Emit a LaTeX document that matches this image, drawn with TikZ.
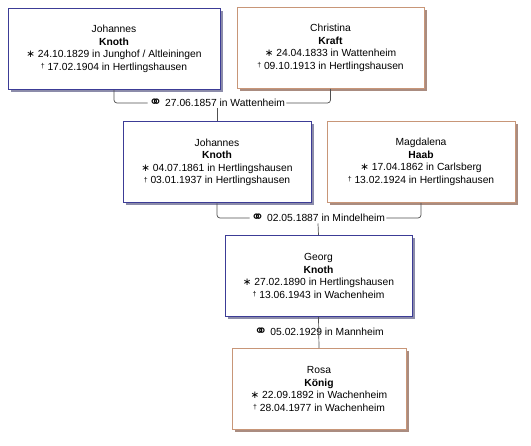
\documentclass[tikz,border=0pt]{standalone}
\usepackage{fontspec}
\setmainfont{Liberation Sans}
\newfontfamily\symfont{DejaVu Sans}
\usetikzlibrary{shadows}
\definecolor{maleline}{RGB}{60,60,150}
\definecolor{maleshade}{RGB}{140,140,170}
\definecolor{femaleline}{RGB}{200,150,120}
\definecolor{femaleshade}{RGB}{170,140,128}
\definecolor{linkgray}{RGB}{80,80,80}
\newcommand{\born}{{\symfont ∗}}
\newcommand{\died}{\raisebox{0.3ex}{\scriptsize †}}
\newcommand{\wed}{\raisebox{-0.15ex}{\symfont\fontsize{16}{12}\selectfont ⚭}}

\begin{document}
\begin{tikzpicture}[
        x=1pt, y=-1pt,
        font=\fontsize{10.3}{12.5}\selectfont,
        person/.style={rectangle, draw, fill=white, align=center, minimum height=81pt, inner sep=2pt},
        male/.style={person, draw=maleline, line width=1pt, drop shadow={shadow xshift=2.5pt, shadow yshift=-2.5pt, fill=maleshade, opacity=1}},
        female/.style={person, draw=femaleline, line width=1pt, drop shadow={shadow xshift=2.5pt, shadow yshift=-2.5pt, fill=femaleshade, opacity=1}},
        wedding/.style={inner sep=1pt},
        link/.style={draw=linkgray, line width=0.7pt, rounded corners=3pt}
    ]
    \fill[white] (0,0) rectangle (531,446);
    \useasboundingbox (0,0) rectangle (531,446);

    % Nodes
    \node[male, minimum width=212pt] (jk1) at (114,49) {Johannes\\\textbf{Knoth}\\\born\ 24.10.1829 in Junghof / Altleiningen\\\died\ 17.02.1904 in Hertlingshausen};
    \node[female, minimum width=187pt] (ck) at (330.5,48) {Christina\\\textbf{Kraft}\\\born\ 24.04.1833 in Wattenheim\\\died\ 09.10.1913 in Hertlingshausen};

    \node[male, minimum width=188pt] (jk2) at (217,162.5) {Johannes\\\textbf{Knoth}\\\born\ 04.07.1861 in Hertlingshausen\\\died\ 03.01.1937 in Hertlingshausen};
    \node[female, minimum width=188pt] (mh) at (421,162) {Magdalena\\\textbf{Haab}\\\born\ 17.04.1862 in Carlsberg\\\died\ 13.02.1924 in Hertlingshausen};

    \node[male, minimum width=187pt] (gk) at (318.5,276) {Georg\\\textbf{Knoth}\\\born\ 27.02.1890 in Hertlingshausen\\\died\ 13.06.1943 in Wachenheim};

    \node[female, minimum width=174pt] (rk) at (319,389) {Rosa\\\textbf{König}\\\born\ 22.09.1892 in Wachenheim\\\died\ 28.04.1977 in Wachenheim};

    \node[wedding] (w1) at (217,103) {\wed\ 27.06.1857 in Wattenheim};
    \node[wedding] (w2) at (318,218) {\wed\ 02.05.1887 in Mindelheim};
    \node[wedding] (w3) at (319,332) {\wed\ 05.02.1929 in Mannheim};

    % Connectors
    \draw[link] (jk1.south) |- (w1.west);
    \draw[link] (w1.east) -| (ck.south);
    \draw[link] (w1.south) -- (jk2.north);

    \draw[link] (jk2.south) |- (w2.west);
    \draw[link] (w2.east) -| (mh.south);
    \draw[link] (w2.south) -- (gk.north);

    \draw[link] (gk.south) -- (rk.north);
\end{tikzpicture}
\end{document}
